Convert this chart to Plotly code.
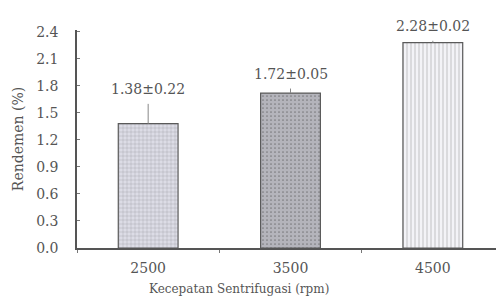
import plotly.graph_objects as go

categories = ["2500", "3500", "4500"]
rendemen = [1.38, 1.72, 2.28]
errors = [0.22, 0.05, 0.02]
labels = ["1.38±0.22", "1.72±0.05", "2.28±0.02"]
y_ticks = [0.0, 0.3, 0.6, 0.9, 1.2, 1.5, 1.8, 2.1, 2.4]

fills = ["#dcdce6", "#b4b4bb", "#f3f3f7"]
patterns = ["+", ".", "|"]
font_family = "DejaVu Serif, Liberation Serif, serif"
txt = "#555555"

fig = go.Figure()
fig.add_trace(go.Bar(
    x=categories, y=rendemen,
    marker=dict(color=fills, line=dict(color="#5a5a5a", width=1.2),
                pattern=dict(shape=patterns, fgcolor="#c4c4d0", size=4, solidity=0.15)),
    error_y=dict(type="data", array=errors, arrayminus=[0, 0, 0], symmetric=False,
                 color="#888888", thickness=1, width=0),
    width=0.42,
))

for i, (v, e, t) in enumerate(zip(rendemen, errors, labels)):
    fig.add_annotation(x=i, y=v + e, text=t, showarrow=False, yanchor="middle",
                       yshift=15, font=dict(family=font_family, size=14, color=txt))

fig.add_annotation(xref="paper", yref="paper", x=0.38, y=-0.19, yanchor="middle",
                   text="Kecepatan Sentrifugasi (rpm)", showarrow=False,
                   font=dict(family=font_family, size=12, color=txt))

fig.update_layout(
    width=496, height=290,
    margin=dict(l=69, r=0, t=22, b=50),
    paper_bgcolor="white", plot_bgcolor="white",
    showlegend=False,
    font=dict(family=font_family, size=13, color=txt),
    xaxis=dict(type="category", showline=True, linecolor="#555555", linewidth=1.5,
               ticks="outside", tickson="boundaries", ticklen=3, tickcolor="#777777",
               ticklabelstandoff=6,
               range=[-0.5, 2.5], tickfont=dict(size=14, color=txt)),
    yaxis=dict(showline=True, linecolor="#555555", linewidth=1.5, range=[0, 2.42],
               tickvals=y_ticks, tickformat=".1f", ticks="inside", ticklen=3,
               tickcolor="#777777", showgrid=False, zeroline=False,
               ticklabelstandoff=14,
               title=dict(text="Rendemen (%)", standoff=9,
                          font=dict(family=font_family, size=14, color=txt)),
               tickfont=dict(size=14, color=txt)),
)

fig.write_html("out.html")
